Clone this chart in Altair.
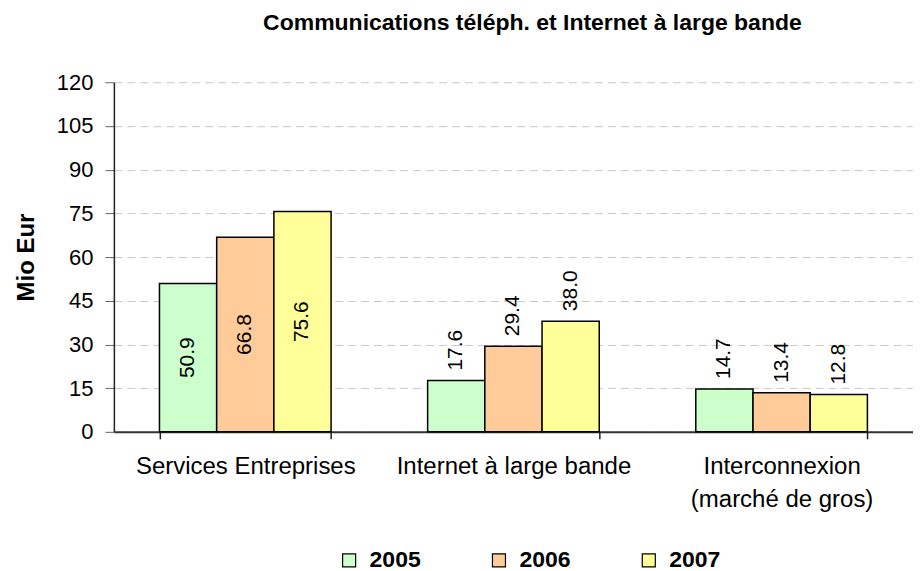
import altair as alt
import pandas as pd

categories = ["Services Entreprises", "Internet à large bande", "Interconnexion|(marché de gros)"]
years = ["2005", "2006", "2007"]
values = {
    "2005": [50.9, 17.6, 14.7],
    "2006": [66.8, 29.4, 13.4],
    "2007": [75.6, 38.0, 12.8],
}
colors = ["#CCFFCC", "#FFCC99", "#FFFF99"]
y_ticks = [0, 15, 30, 45, 60, 75, 90, 105, 120]

rows = []
for y in years:
    for c, v in zip(categories, values[y]):
        rows.append({"cat": c, "year": y, "value": v, "half": v / 2, "label": f"{v:.1f}"})
df = pd.DataFrame(rows)

FONT = "Liberation Sans"

x_enc = alt.X("cat:N", sort=categories, title=None,
              scale=alt.Scale(paddingInner=0.36, paddingOuter=0.17),
              axis=alt.Axis(labelAngle=0, labelFontSize=24, labelFont=FONT, labelColor="#000",
                            labelExpr="split(datum.label, '|')", labelPadding=16, labelLineHeight=33,
                            labelLimit=500,
                            tickBand="extent", tickSize=7, tickColor="#222", domainColor="#333",
                            domainWidth=2, tickWidth=1.5, grid=False))
xo = alt.XOffset("year:N", sort=years)

base = alt.Chart(df)

bars = base.mark_bar(stroke="black", strokeWidth=1.5).encode(
    x=x_enc,
    xOffset=xo,
    y=alt.Y("value:Q", title="Mio Eur",
            scale=alt.Scale(domain=[0, 120], nice=False),
            axis=alt.Axis(values=y_ticks, labelFontSize=22, labelFont=FONT, labelColor="#000",
                          titleFontSize=24, titleFont=FONT, titleFontWeight="bold", titleColor="#000",
                          titlePadding=18, grid=True, gridDash=[8, 5], gridColor="#c8c8c8",
                          tickColor="#666", tickSize=9, domainColor="#222", domainWidth=1.5,
                          labelPadding=12)),
    color=alt.Color("year:N", sort=years, scale=alt.Scale(domain=years, range=colors),
                    legend=alt.Legend(orient="none", legendX=224, legendY=467,
                                      direction="horizontal", title=None,
                                      symbolType="square", symbolSize=170, symbolStrokeColor="black",
                                      symbolStrokeWidth=1.2, labelFontSize=23, labelFontWeight="bold",
                                      labelFont=FONT, labelColor="#000", columnPadding=66,
                                      labelOffset=9)),
)

inside = base.transform_filter(alt.datum.cat == categories[0]).mark_text(
    angle=270, align="center", baseline="middle", fontSize=21, font=FONT, color="#000"
).encode(x=alt.X("cat:N", sort=categories), xOffset=xo, y=alt.Y("half:Q"), text="label:N")

above = base.transform_filter(alt.datum.cat != categories[0]).mark_text(
    angle=270, align="left", baseline="middle", fontSize=21, font=FONT, color="#000", dx=10
).encode(x=alt.X("cat:N", sort=categories), xOffset=xo, y=alt.Y("value:Q"), text="label:N")

chart = alt.layer(bars, inside, above).properties(
    width=800, height=350,
    title=alt.TitleParams("Communications téléph. et Internet à large bande", fontSize=23,
                          font=FONT, fontWeight="bold", color="#000", offset=36, dx=19),
    padding={"left": 6, "top": 4, "right": 0, "bottom": 0},
).configure_view(stroke=None)

chart.save("out.html", embed_options={"renderer": "svg", "actions": False})
